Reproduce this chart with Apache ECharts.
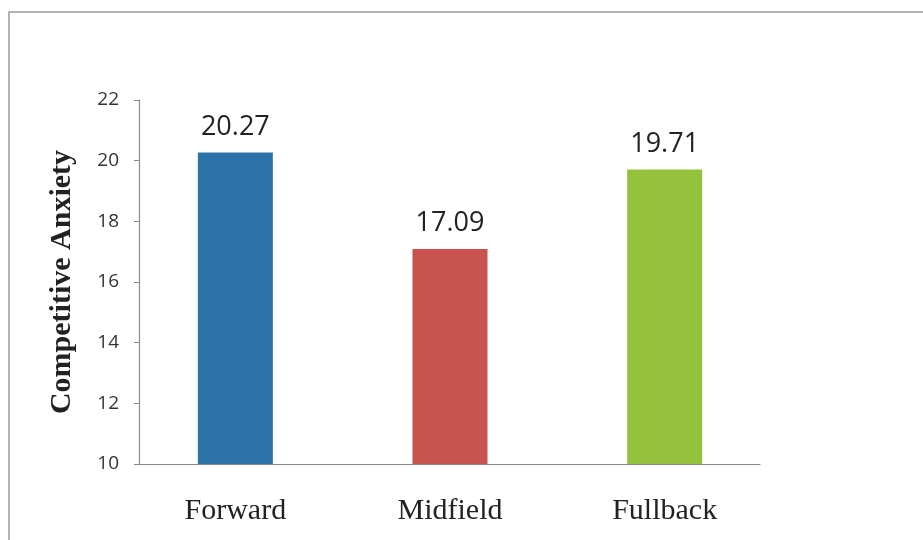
<!DOCTYPE html>
<html>
<head>
<meta charset="utf-8">
<script src="https://cdn.jsdelivr.net/npm/echarts@6/dist/echarts.min.js"></script>
<style>
  html, body { margin: 0; padding: 0; background: #fff; }
  #chart { width: 923px; height: 540px; }
</style>
</head>
<body>
<div id="chart"></div>
<script>
// Playing positions and mean competitive anxiety scores
const positions = ['Forward', 'Midfield', 'Fullback'];
const anxietyScores = [20.27, 17.09, 19.71];
const barColors = ['#2b73a9', '#c8524e', '#95c23c'];

const yMin = 10, yMax = 22, yStep = 2;

const chart = echarts.init(document.getElementById('chart'));

chart.setOption({
  backgroundColor: '#ffffff',
  animation: false,
  graphic: [{
    type: 'rect',
    shape: { x: 9, y: 12, width: 930, height: 540 },
    style: { fill: 'none', stroke: '#9a9a9a', lineWidth: 1.5 },
    silent: true
  }],
  grid: [
    // frame grid: carries the visible axis lines and the y scale
    { left: 139, right: 163, top: 100, bottom: 76 },
    // plotting grid for the bars
    { left: 128, width: 644, top: 100, bottom: 76 }
  ],
  xAxis: [
    {
      type: 'value', gridIndex: 0, min: 0, max: 1,
      axisLine: { show: true, lineStyle: { color: '#8a8a8a', width: 1.2 } },
      axisTick: { show: false }, axisLabel: { show: false }, splitLine: { show: false }
    },
    {
      type: 'category', gridIndex: 1, data: positions,
      axisLine: { show: false }, axisTick: { show: false },
      axisLabel: {
        margin: 32,
        fontFamily: 'Liberation Serif, serif',
        fontSize: 30,
        color: '#222'
      }
    }
  ],
  yAxis: [
    {
      type: 'value', gridIndex: 0, min: yMin, max: yMax, interval: yStep,
      name: 'Competitive Anxiety',
      nameLocation: 'middle',
      nameGap: 62,
      nameTextStyle: {
        fontFamily: 'Liberation Serif, serif',
        fontWeight: 'bold',
        fontSize: 30,
        color: '#222'
      },
      axisLine: { show: true, lineStyle: { color: '#8a8a8a', width: 1.2 } },
      axisTick: { show: true, inside: false, length: 5, lineStyle: { color: '#8a8a8a' } },
      axisLabel: {
        margin: 20,
        fontFamily: 'Open Sans, sans-serif',
        fontSize: 19,
        color: '#333'
      },
      splitLine: { show: false }
    },
    {
      type: 'value', gridIndex: 1, min: yMin, max: yMax, interval: yStep,
      show: false
    }
  ],
  series: [{
    type: 'bar',
    xAxisIndex: 1,
    yAxisIndex: 1,
    barWidth: 75,
    data: anxietyScores.map((v, i) => ({ value: v, itemStyle: { color: barColors[i] } })),
    label: {
      show: true,
      position: 'top',
      distance: 12,
      fontFamily: 'Open Sans, sans-serif',
      fontSize: 27,
      color: '#222',
      formatter: p => p.value.toFixed(2)
    }
  }]
});
</script>
</body>
</html>
